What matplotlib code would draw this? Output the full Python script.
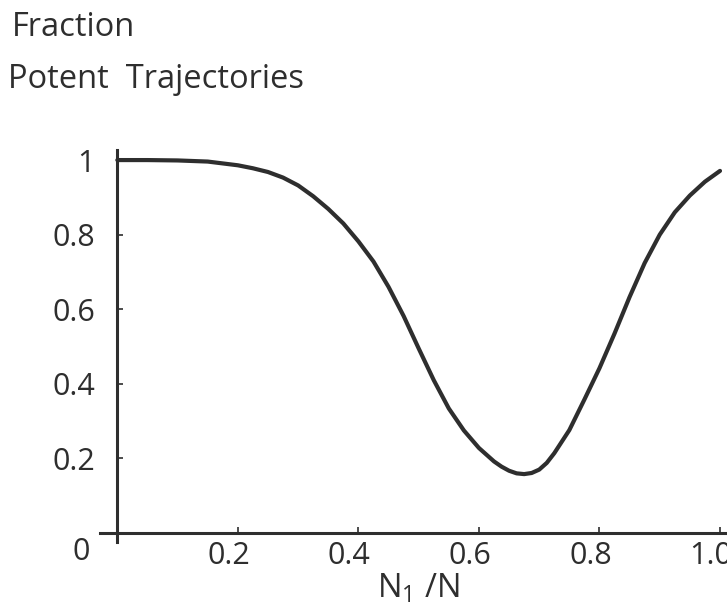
import matplotlib
matplotlib.use("Agg")
import matplotlib.pyplot as plt
import matplotlib.transforms as mtransforms

plt.rcParams['font.family'] = ['Open Sans', 'DejaVu Sans']
plt.rcParams['mathtext.fontset'] = 'custom'
plt.rcParams['mathtext.rm'] = 'Open Sans'
plt.rcParams['mathtext.it'] = 'Open Sans'

# Fraction of potent trajectories versus N1/N
n1_frac = [0.000, 0.050, 0.100, 0.150, 0.200, 0.225, 0.250, 0.275, 0.300,
           0.325, 0.350, 0.375, 0.400, 0.425, 0.450, 0.475, 0.500, 0.525,
           0.550, 0.575, 0.600, 0.625, 0.6375, 0.650, 0.6625, 0.675,
           0.6875, 0.700, 0.7125, 0.725, 0.750, 0.775, 0.800, 0.825, 0.850,
           0.875, 0.900, 0.925, 0.950, 0.975, 1.000]
potent = [1.000, 1.000, 0.999, 0.996, 0.986, 0.978, 0.968, 0.953, 0.932,
          0.903, 0.869, 0.830, 0.782, 0.728, 0.660, 0.582, 0.495, 0.410,
          0.334, 0.275, 0.228, 0.192, 0.178, 0.167, 0.160, 0.158,
          0.161, 0.170, 0.188, 0.214, 0.276, 0.358, 0.442, 0.535, 0.633,
          0.724, 0.800, 0.860, 0.905, 0.942, 0.971]

x_ticks = [0.2, 0.4, 0.6, 0.8, 1.0]
x_labels = ['0.2', '0.4', '0.6', '0.8', '1.0']
y_ticks = [0.2, 0.4, 0.6, 0.8, 1.0]
y_labels = ['0.2', '0.4', '0.6', '0.8', '1']

ink = '#2e2e2e'
fs = 22
fs_title = 23.5

fig = plt.figure(figsize=(7.27, 6.14), dpi=100)
ax = fig.add_axes([0.1376, 0.1173, 0.8624, 0.6384])

ax.plot(n1_frac, potent, color=ink, lw=3.0, solid_capstyle='round',
        solid_joinstyle='round', zorder=3)

ax.set_xlim(-0.0287, 1.0116)
ax.set_ylim(-0.024, 1.027)

for side in ('top', 'right'):
    ax.spines[side].set_visible(False)
ax.spines['left'].set_position(('data', 0))
ax.spines['bottom'].set_position(('data', 0))
for side in ('left', 'bottom'):
    ax.spines[side].set_color(ink)
    ax.spines[side].set_linewidth(2.2)

ax.set_xticks(x_ticks, x_labels)
ax.set_yticks(y_ticks, y_labels)
ax.tick_params(axis='both', direction='in', length=4, width=1.2, color=ink,
               labelsize=fs, labelcolor=ink)
ax.tick_params(axis='x', pad=6)
ax.tick_params(axis='y', pad=16)

shift = mtransforms.ScaledTranslation(-9 / 100, 0, fig.dpi_scale_trans)
for lab in ax.get_xticklabels():
    lab.set_transform(lab.get_transform() + shift)

# origin label
ax.annotate('0', xy=(0, 0), xytext=(-36, -19), textcoords='offset pixels',
            ha='center', va='center', fontsize=fs, color=ink)

# axis titles
ax.annotate(r'$\mathregular{N_1}$ /N', xy=(0.5, 0), xytext=(0, -56),
            textcoords='offset pixels', ha='center', va='center',
            fontsize=fs_title, color=ink)
fig.text(12 / 727, 1 - 27 / 614, 'Fraction', fontsize=fs_title, color=ink,
         ha='left', va='center')
fig.text(8 / 727, 1 - 80 / 614, 'Potent  Trajectories', fontsize=fs_title,
         color=ink, ha='left', va='center')

fig.savefig('out.png', dpi=100, facecolor='white')
